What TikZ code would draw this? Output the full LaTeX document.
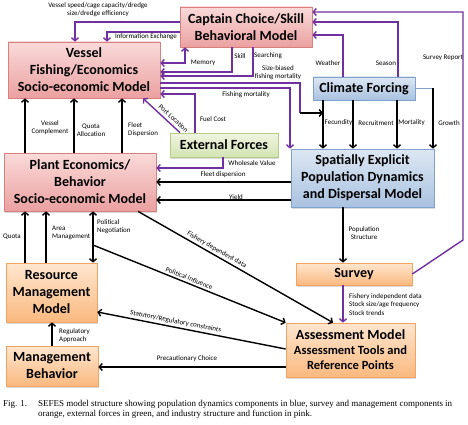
\documentclass[tikz,border=0pt]{standalone}
\usepackage{fontspec}
\setmainfont{Carlito}
\newfontfamily\capfont{Liberation Serif}
\usepackage{tikz}
\usetikzlibrary{arrows.meta,calc,positioning,shadows}
\definecolor{purp}{HTML}{7030A0}
\definecolor{pinktop}{HTML}{FADADA}
\definecolor{pinkbot}{HTML}{EBA0A0}
\definecolor{pinkedge}{HTML}{D9807E}
\definecolor{bluetop}{HTML}{DDE7F3}
\definecolor{bluebot}{HTML}{A9C2E0}
\definecolor{blueedge}{HTML}{7FA2CF}
\definecolor{greentop}{HTML}{F0F5E2}
\definecolor{greenbot}{HTML}{D3E3B3}
\definecolor{greenedge}{HTML}{B5CD86}
\definecolor{orangetop}{HTML}{FEE6CF}
\definecolor{orangebot}{HTML}{FAB97F}
\definecolor{orangeedge}{HTML}{F4A460}

\begin{document}
\begin{tikzpicture}[x=1pt,y=-1pt,>={Straight Barb[length=3pt,width=7pt]},
  box/.style={draw,line width=0.7pt,align=center,inner sep=0pt,font=\fontsize{14}{17}\selectfont\bfseries,
    drop shadow={opacity=0.3,shadow xshift=1.2pt,shadow yshift=-1.5pt}},
  pinkbox/.style={box,draw=pinkedge,top color=pinktop,bottom color=pinkbot},
  bluebox/.style={box,draw=blueedge,top color=bluetop,bottom color=bluebot},
  greenbox/.style={box,draw=greenedge,top color=greentop,bottom color=greenbot},
  orangebox/.style={box,draw=orangeedge,top color=orangetop,bottom color=orangebot},
  link/.style={line width=1.4pt,->},
  plink/.style={link,draw=purp},
  lab/.style={font=\fontsize{7}{8.2}\selectfont,inner sep=0pt}]
\useasboundingbox (0,0) rectangle (468,425);
% the model components
\node[pinkbox,minimum width=132pt,minimum height=40pt] (captain) at (246,27) {Captain Choice/Skill\\Behavioral Model};
\node[pinkbox,minimum width=152pt,minimum height=56pt] (vessel) at (84,70) {Vessel\\Fishing/Economics\\Socio-economic Model};
\node[bluebox,minimum width=102pt,minimum height=23pt] (climate) at (364,88.5) {Climate Forcing};
\node[greenbox,minimum width=108pt,minimum height=24pt] (external) at (224,145) {External Forces};
\node[pinkbox,minimum width=152pt,minimum height=58pt] (plant) at (80,182) {Plant Economics/\\Behavior\\Socio-economic Model};
\node[bluebox,minimum width=143pt,minimum height=58pt] (spatial) at (362.5,178) {Spatially Explicit\\Population Dynamics\\and Dispersal Model};
\node[orangebox,minimum width=116pt,minimum height=22pt] (survey) at (354,274) {Survey};
\node[orangebox,minimum width=91pt,minimum height=59pt] (resource) at (51.5,292.5) {Resource\\Management\\Model};
\node[orangebox,minimum width=92pt,minimum height=40pt] (mgmt) at (52,366) {Management\\Behavior};
\node[orangebox,minimum width=129pt,minimum height=54pt,font=\fontsize{14}{15}\selectfont\bfseries] (assess) at (350.5,350)
  {Assessment Model\\{\fontsize{12.5}{15}\selectfont Assessment Tools and}\\{\fontsize{12.5}{15}\selectfont Reference Points}};
% captain choice links
\draw[plink] (captain.west |- 0,22) -| (75,0 |- vessel.north);
\draw[plink] (captain.west |- 0,32) -| (107,0 |- vessel.north);
\draw[plink,<->] (vessel.east |- 0,63) -| (185,0 |- captain.south);
\draw[plink] (232,0 |- captain.south) |- (vessel.east |- 0,72);
\draw[plink] (253,0 |- captain.south) |- (vessel.east |- 0,76);
\draw[plink] (343,0 |- climate.north) |- (captain.east |- 0,35);
\draw[plink] (398,0 |- climate.north) |- (captain.east |- 0,22);
\draw[plink] (survey.east) -- (463,240) |- (captain.east |- 0,12);
\node[lab,align=center] (lspeed) at (98,10) {Vessel speed/cage capacity/dredge\\size/dredge efficiency};
\node[lab] (linfo) at (146,37) {Information Exchange};
\node[lab] (lmemory) at (203,63) {Memory};
\node[lab] (lskill) at (240,56) {Skill};
\node[lab] (lsearch) at (268,56) {Searching};
\node[lab] (lweather) at (328,63) {Weather};
\node[lab] (lseason) at (386,63) {Season};
\node[lab] (lreport) at (443,58) {Survey Report};
% vessel and external forces
\coordinate (fec) at (323,0 |- climate.south);
\draw[line width=1.4pt,purp] (vessel.east |- 0,83) -| (300,113) coordinate (bend);
\draw[link] (bend) -- (bend -| fec);
\draw[plink] (vessel.east |- 0,88) -| (290,0 |- spatial.north);
\draw[plink] (195,0 |- external.north) |- (vessel.east |- 0,94);
\draw[plink,<-] (143,0 |- vessel.south) -- node[lab,sloped,above=3pt,pos=0.71] (lport) {Port Location} (180,0 |- external.north);
\draw[plink] (223,0 |- external.south) |- (plant.east |- 0,168);
\node[lab,align=center] (lsize) at (278,72.5) {Size-biased\\fishing mortality};
\node[lab] (lfish) at (246,95) {Fishing mortality};
\node[lab] (lfuel) at (213,119) {Fuel Cost};
\node[lab] (lwhole) at (252,163) {Wholesale Value};
% climate forcing on the population
\foreach \x/\c/\t in {323/338.5/Fecundity,353/376/Recruitment,397/411.5/Mortality} {
  \draw[link] (\x,0 |- climate.south) -- (\x,0 |- spatial.north);
  \node[lab] (l\t) at (\c,123) {\t};}
\draw[line width=1.4pt,blueedge] (climate.east) -- (433,0 |- climate.east) coordinate (grow);
\draw[link] (grow) -- (grow |- spatial.north);
\node[lab] (lgrowth) at (449,123) {Growth};
% plant and vessel
\foreach \x in {25,74,122} \draw[link] (\x,0 |- plant.north) -- (\x,0 |- vessel.south);
\node[lab,align=center] (lcomp) at (50,127.5) {Vessel\\Complement};
\node[lab,align=center] (lalloc) at (91,130.5) {Quota\\Allocation};
\node[lab,align=left,anchor=west] (ldisp) at (128,130) {Fleet\\Dispersion};
\draw[link] (spatial.west |- 0,182) -- (plant.east |- 0,182);
\draw[link] (spatial.west |- 0,200) -- (plant.east |- 0,200);
\node[lab] (lfleet) at (223,175) {Fleet dispersion};
\node[lab] (lyield) at (236,197) {Yield};
% survey and assessment
\draw[link] (343,0 |- spatial.south) -- (343,0 |- survey.north);
\draw[plink] (343,0 |- survey.south) -- (343,0 |- assess.north);
\node[lab,align=center] (lpop) at (364,233) {Population\\Structure};
\node[lab,align=left,anchor=west] (lindep) at (349,304.5) {Fishery independent data\\Stock size/age frequency\\Stock trends};
% management
\draw[link] (25,0 |- resource.north) -- (25,0 |- plant.south);
\draw[link] (46,0 |- resource.north) -- (46,0 |- plant.south);
\draw[link,<->] (93,0 |- resource.north) -- (93,0 |- plant.south);
\coordinate (neg) at (93,245);
\node[lab] (lquota) at (12,237) {Quota};
\node[lab,align=left,anchor=west] (larea) at (52,233) {Area\\Management};
\node[lab,align=left,anchor=west] (lnego) at (97,227) {Political\\Negotiation};
\draw[link] (138,0 |- plant.south) -- node[lab,sloped,above=2pt,pos=0.39] (ldep) {Fishery dependent data} (333,0 |- assess.north);
\draw[link] (neg) -- node[lab,sloped,above=2pt,pos=0.49] (lpolinf) {Political Influence} (assess.north west);
\draw[link,<-] (resource.east |- 0,312) -- node[lab,sloped,above=2pt,pos=0.41] (lstat) {Statutory/Regulatory constraints} (assess.west |- 0,349);
\draw[link] (assess.west |- 0,367) -- (mgmt.east |- 0,367);
\node[lab] (lprec) at (187,359) {Precautionary Choice};
\draw[link] (52,0 |- mgmt.north) -- (52,0 |- resource.south);
\node[lab,align=left,anchor=west] (lreg) at (59,336) {Regulatory\\Approach};
% caption
\node[font=\capfont\fontsize{9}{10}\selectfont,anchor=north west,inner sep=0pt] (figno) at (3,400) {Fig. 1.};
\node[font=\capfont\fontsize{9}{10}\selectfont,anchor=north west,inner sep=0pt,align=left] (caption) at (38,400)
  {\makebox[414pt][s]{SEFES model structure showing population dynamics components in blue, survey and management components in}\\
   orange, external forces in green, and industry structure and function in pink.};
\end{tikzpicture}
\end{document}
